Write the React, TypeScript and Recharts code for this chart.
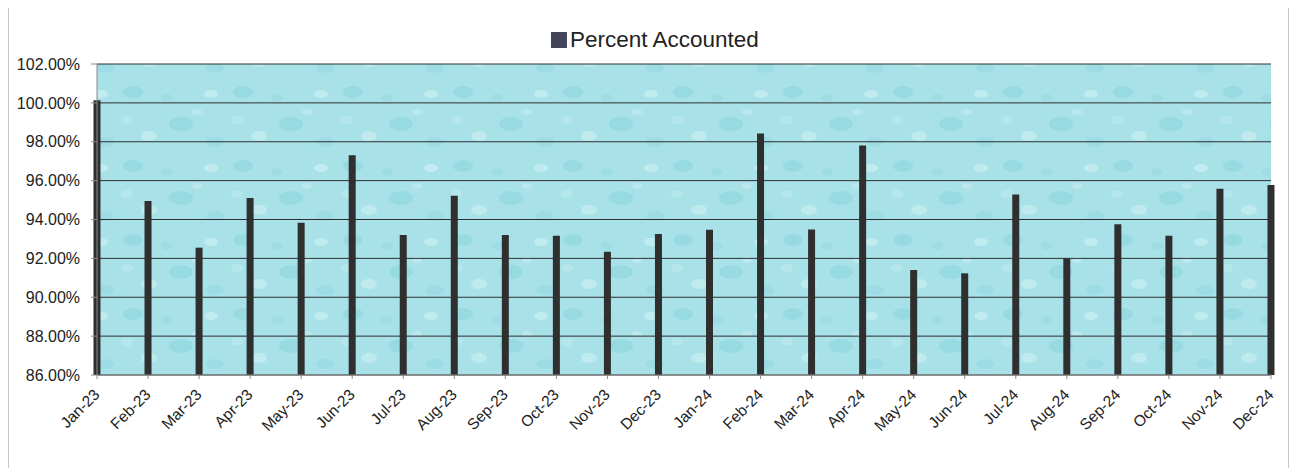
import React from "react";
import { BarChart, Bar, XAxis, YAxis, CartesianGrid } from "recharts";

const months = [
  "Jan-23", "Feb-23", "Mar-23", "Apr-23", "May-23", "Jun-23",
  "Jul-23", "Aug-23", "Sep-23", "Oct-23", "Nov-23", "Dec-23",
  "Jan-24", "Feb-24", "Mar-24", "Apr-24", "May-24", "Jun-24",
  "Jul-24", "Aug-24", "Sep-24", "Oct-24", "Nov-24", "Dec-24",
];

const percentAccounted = [
  100.14, 94.95, 92.55, 95.1, 93.83, 97.31,
  93.2, 95.22, 93.2, 93.16, 92.34, 93.25,
  93.47, 98.43, 93.49, 97.81, 91.4, 91.23,
  95.29, 92.0, 93.75, 93.16, 95.58, 95.77,
];

const yTicks = [86, 88, 90, 92, 94, 96, 98, 100, 102];

const data = months.map((m, i) => ({ idx: i, month: m, value: percentAccounted[i] }));

const FONT = '"Liberation Sans", Arial, sans-serif';

function MonthTick(props: any) {
  const { x, y, payload } = props;
  return (
    <g transform={`translate(${x},${y + 11})`}>
      <text
        x={0}
        y={0}
        dy={5}
        textAnchor="end"
        transform="rotate(-45)"
        fontSize={15.5}
        fontFamily={FONT}
        fill="#222"
      >
        {months[payload.value]}
      </text>
    </g>
  );
}

export default function App() {
  return (
    <div
      style={{
        width: 1279,
        height: 470,
        border: "1px solid #c8c8c8",
        marginTop: -3,
        position: "relative",
        background: "#fff",
      }}
    >
      <div
        style={{
          position: "absolute",
          left: 542,
          top: 21,
          display: "flex",
          alignItems: "center",
          fontFamily: FONT,
          fontSize: 22.5,
          color: "#222",
        }}
      >
        <span style={{ width: 16, height: 16, background: "#44445a", display: "inline-block", marginRight: 3 }} />
        Percent Accounted
      </div>
      <BarChart
        width={1279}
        height={450}
        data={data}
        margin={{ top: 58, right: 17, left: 0, bottom: 21 }}
      >
        <defs>
          <pattern id="water" width="110" height="74" patternUnits="userSpaceOnUse">
            <rect width="110" height="74" fill="#a8e2e8" />
            <ellipse cx="14" cy="12" rx="10" ry="6" fill="#8ed5de" opacity="0.6" />
            <ellipse cx="62" cy="44" rx="12" ry="7" fill="#88d1db" opacity="0.5" />
            <ellipse cx="92" cy="14" rx="7" ry="4" fill="#c6edf1" opacity="0.8" />
            <ellipse cx="30" cy="56" rx="8" ry="5" fill="#c9eef2" opacity="0.7" />
            <ellipse cx="48" cy="18" rx="6" ry="4" fill="#94d7e0" opacity="0.5" />
            <ellipse cx="96" cy="62" rx="9" ry="5" fill="#91d6df" opacity="0.5" />
            <ellipse cx="78" cy="32" rx="5" ry="3" fill="#c3ecf0" opacity="0.7" />
            <ellipse cx="8" cy="40" rx="6" ry="4" fill="#bce9ee" opacity="0.6" />
          </pattern>
        </defs>
        <CartesianGrid vertical={false} stroke="#2e2e2e" fill="url(#water)" fillOpacity={1} />
        <XAxis
          dataKey="idx"
          type="number"
          domain={[0, 23]}
          ticks={months.map((_, i) => i)}
          interval={0}
          height={60}
          stroke="#8a8a8a"
          tickSize={4}
          tick={<MonthTick />}
        />
        <YAxis
          domain={[86, 102]}
          ticks={yTicks}
          width={88}
          stroke="#8a8a8a"
          tickSize={6}
          tickMargin={11}
          allowDataOverflow
          tickFormatter={(v: number) => v.toFixed(2) + "%"}
          tick={{ fontSize: 16, fontFamily: FONT, fill: "#222" }}
        />
        <Bar dataKey="value" fill="#2f2f2f" barSize={7} isAnimationActive={false} />
      </BarChart>
    </div>
  );
}
